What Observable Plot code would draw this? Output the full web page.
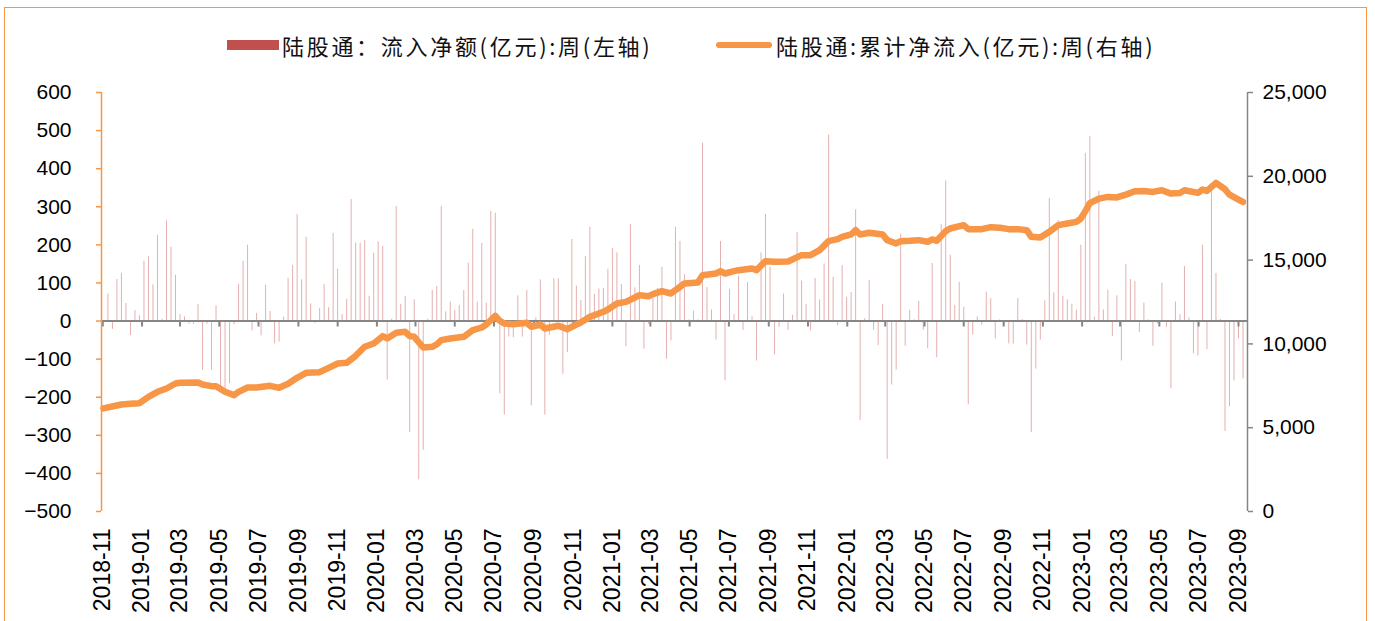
<!DOCTYPE html>
<html>
<head>
<meta charset="utf-8">
<script src="https://cdn.jsdelivr.net/npm/d3@7"></script>
<script src="https://cdn.jsdelivr.net/npm/@observablehq/plot@0.6"></script>
<style>
html, body { margin: 0; padding: 0; background: #fff; overflow: hidden; }
#wrap { position: relative; width: 1375px; height: 621px; overflow: hidden; }
#frame { position: absolute; left: 4px; top: 7px; width: 1363px; height: 660px; border: 1.5px solid #F79646; box-sizing: border-box; }
#chart { position: absolute; left: 0; top: 0; }
.sw { position: absolute; }
.lt { position: absolute; top: 30px; line-height: 30px; font-family: "Noto Sans CJK SC", sans-serif; font-size: 22px; letter-spacing: 2.7px; color: #111; white-space: nowrap; }
</style>
</head>
<body>
<div id="wrap">
  <div id="frame"></div>
  <div id="chart"></div>
  <div id="legend"></div>
</div>
<script>
// ---- data ----
const seriesBar = "陆股通：流入净额(亿元):周(左轴)";
const seriesLine = "陆股通:累计净流入(亿元):周(右轴)";
const firstWeek = "2018-11-09"; // first weekly bar (Fridays)

// weekly net inflow, 亿元 (left axis)
const flows = [
  71, -22, 109, 125, 46, -38, 27, 14, 157, 170,
  95, 225, 5, 263, 194, 120, 17, 11, -8, -8,
  44, -129, -8, -129, 40, -177, -177, -164, -10, 96,
  157, 199, -26, 20, -39, 94, 25, -60, -55, 10,
  112, 146, 280, 108, 220, 45, -6, 33, 96, 35,
  230, 136, 17, 57, 319, 205, 204, 212, 65, 178,
  208, 196, -155, 5, 301, 44, 65, -293, 56, -417,
  -339, 5, 80, 91, 301, 24, 50, 28, 41, 80,
  152, 241, 50, 204, 47, 288, 283, -191, -247, -42,
  -44, 66, -42, 80, -222, 8, 108, -247, -38, 111,
  111, -140, -83, 214, 92, 54, 169, 246, 70, 84,
  86, 136, 191, 179, 96, -67, 253, 87, 146, -74,
  -9, 60, 86, 141, -100, -52, 246, 209, 122, 3,
  26, 3, 467, 88, 29, -50, 209, -157, 83, 17,
  118, -25, 101, 11, -105, 179, 280, 141, -89, -17,
  71, -25, 15, 233, 105, 44, -26, 112, 56, 150,
  488, 115, -12, 146, 62, 75, 292, -261, 6, 107,
  -24, -64, 43, -363, -168, -129, 228, -66, 28, 3,
  52, -24, -73, 151, -96, 253, 368, 173, 41, 102,
  36, -220, -37, 11, -11, 76, 59, -47, 3, -10,
  -60, -61, 59, 4, -63, -293, -126, -50, 53, 322,
  74, 264, 65, 56, 44, 29, 199, 440, 485, 10,
  341, 29, 81, -41, 66, -105, 148, 109, 104, -30,
  47, 3, -66, -8, 99, -17, -178, 50, 17, 143,
  8, -86, -92, 199, -75, 342, 125, 4, -290, -225,
  -157, -47, -152
];

// cumulative net inflow, 亿元 (right axis), read at these week numbers
const cumWeeks = [
  -1, 3, 5, 7, 9, 11, 13, 15, 16, 20, 21, 23, 24, 26, 28, 29, 31, 33, 36, 38,
  40, 42, 44, 47, 49, 51, 53, 55, 57, 59, 61, 62, 64, 66, 67, 68, 70, 72, 73, 74,
  76, 79, 81, 83, 84, 86, 87, 88, 90, 93, 94, 96, 97, 100, 102, 104, 105, 107, 110, 111,
  113, 115, 117, 118, 120, 121, 123, 125, 127, 128, 131, 132, 135, 136, 137, 139, 140, 143, 144, 146,
  148, 151, 154, 156, 158, 160, 162, 163, 165, 166, 167, 169, 172, 173, 175, 176, 178, 180, 182, 183,
  184, 186, 187, 190, 191, 194, 196, 198, 200, 202, 204, 205, 207, 209, 211, 213, 215, 216, 217, 218,
  220, 222, 224, 226, 228, 230, 232, 234, 236, 238, 239, 242, 243, 244, 246, 248, 249, 251, 252
];
const cumValues = [
  6150, 6385, 6425, 6465, 6843, 7141, 7340, 7638, 7678, 7698, 7578, 7479, 7479, 7141, 6943, 7141, 7399, 7399, 7499, 7380,
  7618, 7976, 8274, 8314, 8573, 8831, 8871, 9289, 9826, 10025, 10462, 10323, 10661, 10721, 10462, 10422, 9786, 9826, 9965, 10224,
  10323, 10422, 10820, 10979, 11158, 11675, 11377, 11218, 11178, 11257, 11019, 11158, 10919, 11080, 10880, 11158, 11277, 11615, 11914, 12053,
  12411, 12510, 12769, 12908, 12848, 12968, 13147, 13008, 13406, 13605, 13664, 14101, 14201, 14340, 14201, 14340, 14400, 14500, 14400, 14937,
  14897, 14917, 15295, 15295, 15594, 16131, 16250, 16389, 16529, 16787, 16529, 16628, 16529, 16191, 15992, 16131, 16151, 16191, 16092, 16231,
  16151, 16727, 16887, 17086, 16847, 16847, 16966, 16926, 16847, 16847, 16786, 16389, 16350, 16687, 17084, 17183, 17282, 17480, 17920, 18400,
  18671, 18770, 18740, 18909, 19107, 19127, 19068, 19167, 18968, 19008, 19167, 19008, 19206, 19127, 19603, 19226, 18900, 18611, 18472
];

const leftTicks = [-500, -400, -300, -200, -100, 0, 100, 200, 300, 400, 500, 600];
const rightTicks = [0, 5000, 10000, 15000, 20000, 25000];
const xTickLabels = [
  "2018-11", "2019-01", "2019-03", "2019-05", "2019-07", "2019-09", "2019-11",
  "2020-01", "2020-03", "2020-05", "2020-07", "2020-09", "2020-11",
  "2021-01", "2021-03", "2021-05", "2021-07", "2021-09", "2021-11",
  "2022-01", "2022-03", "2022-05", "2022-07", "2022-09", "2022-11",
  "2023-01", "2023-03", "2023-05", "2023-07", "2023-09"
];

// ---- build ----
const LMIN = -500, LMAX = 600, RMAX = 25000;
const toLeft = v => LMIN + v / RMAX * (LMAX - LMIN);
const fromLeft = y => (y - LMIN) / (LMAX - LMIN) * RMAX;
const start = d3.utcParse("%Y-%m-%d")(firstWeek);
const weekDate = i => d3.utcDay.offset(start, 7 * i);
const bars = flows.map((v, i) => ({date: weekDate(i), v}));
const cum = cumWeeks.map((w, k) => ({date: weekDate(w), v: toLeft(cumValues[k])}));
const tickDates = xTickLabels.map(s => d3.utcParse("%Y-%m")(s));
const x0 = new Date(Date.UTC(2018, 9, 30));
const x1 = new Date(Date.UTC(2023, 8, 15));
const ORANGE = "#F79646", GRAY = "#868686";

const chart = Plot.plot({
  width: 1375,
  height: 621,
  marginLeft: 101,
  marginRight: 128,
  marginTop: 92,
  marginBottom: 110,
  x: {type: "utc", domain: [x0, x1], label: null},
  y: {domain: [LMIN, LMAX], label: null},
  style: {fontFamily: "'Liberation Sans', Arial, sans-serif", fontSize: "21px", color: "#000", background: "transparent", overflow: "visible"},
  marks: [
    Plot.ruleX(bars, {x: "date", y1: 0, y2: "v", stroke: "#C0504D", strokeOpacity: 0.45, strokeWidth: 1}),
    Plot.ruleY([0], {stroke: GRAY, strokeWidth: 2}),
    Plot.ruleX(tickDates, {x: d => d, y1: 0, y2: 0, insetBottom: -6, stroke: GRAY, strokeWidth: 2}),
    Plot.ruleX([x0], {stroke: ORANGE, strokeWidth: 1.5}),
    Plot.ruleX([x1], {stroke: GRAY, strokeWidth: 1.5}),
    Plot.axisY(leftTicks, {anchor: "left", label: null, tickSize: 5, tickPadding: 25, stroke: ORANGE, strokeWidth: 1.5, fill: "#000",
      tickFormat: d => d < 0 ? "\u2212" + Math.abs(d) : String(d)}),
    Plot.axisY(rightTicks.map(toLeft), {anchor: "right", label: null, tickSize: 5, tickPadding: 10, stroke: GRAY, strokeWidth: 1.5, fill: "#000",
      tickFormat: d => d3.format(",")(Math.round(fromLeft(d)))}),
    Plot.axisX(tickDates, {anchor: "bottom", label: null, tickSize: 0, tickPadding: 17, tickRotate: -90, fill: "#000", fontSize: 23,
      tickFormat: d3.utcFormat("%Y-%m")}),
    Plot.line(cum, {x: "date", y: "v", stroke: ORANGE, strokeWidth: 6.5, strokeLinejoin: "round", strokeLinecap: "round"})
  ]
});
document.getElementById("chart").appendChild(chart);

// legend
const legend = document.getElementById("legend");
legend.innerHTML =
  `<div class="sw" style="left:227px;top:40px;width:52px;height:10px;background:#C0504D"></div>` +
  `<div class="lt" style="left:282px">${seriesBar}</div>` +
  `<div class="sw" style="left:716px;top:42px;width:56px;height:6px;border-radius:3px;background:${ORANGE}"></div>` +
  `<div class="lt" style="left:776px">${seriesLine}</div>`;
</script>
</body>
</html>
